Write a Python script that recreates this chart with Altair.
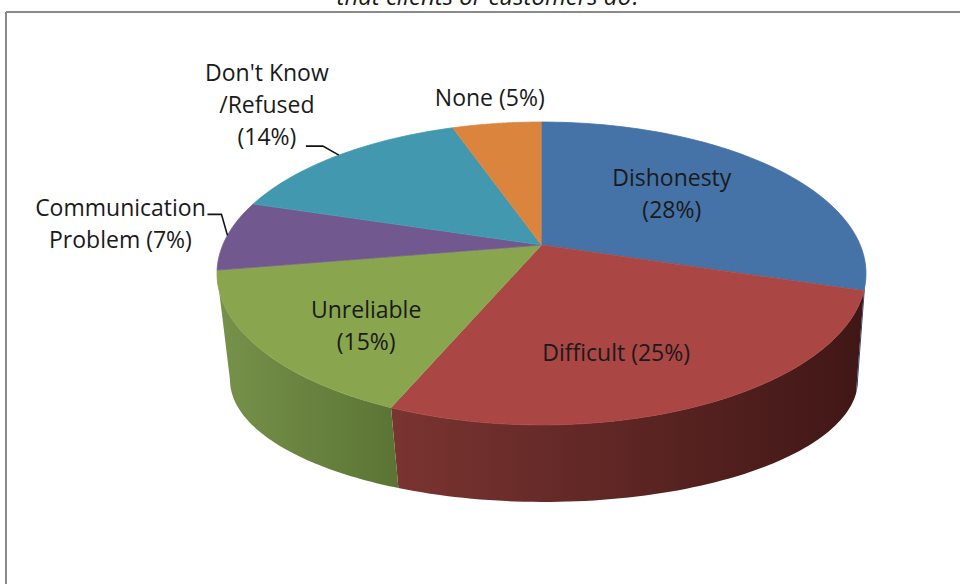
import math
import altair as alt
import pandas as pd

# ---------------- data ----------------
categories = ["Dishonesty", "Difficult", "Unreliable", "Communication Problem",
              "Don't Know /Refused", "None"]
values = [28, 25, 15, 7, 14, 5]
label_names = ["Dishonesty", "Difficult", "Unreliable", "Communication\nProblem",
               "Don't Know\n/Refused", "None"]
label_seps = ["\n", " ", "\n", " ", "\n", " "]
title_text = "that clients or customers do?"

# ---------------- styles ----------------
top_colors = ["#4572A7", "#AA4643", "#89A54E", "#71588F", "#4198AF", "#DB843D"]
wall_light = ["#2f5079", "#7a3431", "#76924a", "#52406a", "#2f7185", "#a86230"]
wall_dark = ["#243d5e", "#401716", "#5b7434", "#3f3152", "#245867", "#854d25"]

# ---------------- layout (pie geometry in plot units) ----------------
CX, CY, RX, RY, P = 541.5, 245.0, 318.7, 146.1, 0.188      # top face
CXB, CYB, RXB, RYB, PB = 544.0, 357.0, 308.4, 117.7, 0.188  # bottom face
N = 72
A_MIN = math.acos(-P)
A_MAX = 2 * math.pi - A_MIN
LINE_H = 32

layout = pd.DataFrame({
    "category": categories,
    "lr": [0.6, 0.6, 0.6, 1.0, 1.0, 1.0],
    "ldx": [-14, -15, -14, -107, -72, -7],
    "ldy": [-1, 20, 23.5, -10, -49, -24],
    "k1x": [0, 0, 0, -6, -16, 0],
    "k1y": [0, 0, 0, -21, -9, 0],
    "k2x": [0, 0, 0, -20, -33, 0],
    "k2y": [0, 0, 0, -21, -9, 0],
    "leader": [0, 0, 0, 1, 1, 0],
})

df = pd.DataFrame({
    "category": categories,
    "value": values,
    "order": list(range(len(categories))),
    "label": [n + s + f"({v}%)" for n, s, v in zip(label_names, label_seps, values)],
})

xscale = alt.Scale(domain=[0, 960], nice=False, zero=False)
yscale = alt.Scale(domain=[0, 584], reverse=True, nice=False, zero=False)
cscale = alt.Scale(domain=categories, range=top_colors)

X = alt.X("px:Q", scale=xscale, axis=None)
Y = alt.Y("py:Q", scale=yscale, axis=None)

base = (
    alt.Chart(df)
    .transform_joinaggregate(total="sum(value)")
    .transform_window(cum="sum(value)", sort=[alt.SortField("order")], frame=[None, 0])
    .transform_calculate(a0="2*PI*(datum.cum - datum.value)/datum.total")
    .transform_calculate(a1="2*PI*datum.cum/datum.total")
)

# ---------------- side walls ----------------
walls = []
for cat, lc, dc in zip(categories, wall_light, wall_dark):
    w = (
        base.transform_filter(alt.datum.category == cat)
        .transform_calculate(s0=f"max(datum.a0, {A_MIN})")
        .transform_calculate(s1=f"min(datum.a1, {A_MAX})")
        .transform_filter("datum.s1 > datum.s0")
        .transform_calculate(idx=f"sequence(0, {2 * N + 2})")
        .transform_flatten(["idx"])
        .transform_calculate(
            ang=f"datum.idx <= {N} ? datum.s0 + datum.idx/{N}*(datum.s1-datum.s0)"
                f" : datum.s1 - (datum.idx-{N}-1)/{N}*(datum.s1-datum.s0)")
        .transform_calculate(st=f"1/(1+{P}*cos(datum.ang))")
        .transform_calculate(sb=f"1/(1+{PB}*cos(datum.ang))")
        .transform_calculate(
            px=f"datum.idx <= {N} ? {CX} + {RX}*sin(datum.ang)*datum.st"
               f" : {CXB} + {RXB}*sin(datum.ang)*datum.sb")
        .transform_calculate(
            py=f"datum.idx <= {N} ? {CY} - {RY}*cos(datum.ang)*datum.st"
               f" : {CYB} - {RYB}*cos(datum.ang)*datum.sb")
        .mark_line(
            filled=True,
            fill=alt.LinearGradient(
                gradient="linear", x1=0, x2=1, y1=0, y2=0,
                stops=[alt.GradientStop(color=lc, offset=0),
                       alt.GradientStop(color=dc, offset=1)]),
            strokeWidth=0,
        )
        .encode(x=X, y=Y, order="idx:Q", detail="category:N")
    )
    walls.append(w)

# ---------------- top faces ----------------
top = (
    base.transform_calculate(idx=f"sequence(0, {N + 2})")
    .transform_flatten(["idx"])
    .transform_calculate(ang=f"datum.a0 + (datum.idx-1)/{N}*(datum.a1-datum.a0)")
    .transform_calculate(st=f"1/(1+{P}*cos(datum.ang))")
    .transform_calculate(px=f"datum.idx == 0 ? {CX} : {CX} + {RX}*sin(datum.ang)*datum.st")
    .transform_calculate(py=f"datum.idx == 0 ? {CY} : {CY} - {RY}*cos(datum.ang)*datum.st")
    .mark_line(filled=True, strokeWidth=0.8)
    .encode(
        x=X, y=Y, order="idx:Q", detail="category:N",
        color=alt.Color("category:N", scale=cscale, legend=None),
        stroke=alt.Stroke("category:N", scale=cscale, legend=None),
    )
)

# ---------------- leader lines ----------------
leaders = (
    base.transform_lookup(
        lookup="category",
        from_=alt.LookupData(layout, "category", ["k1x", "k1y", "k2x", "k2y", "leader"]))
    .transform_filter("datum.leader == 1")
    .transform_calculate(idx="sequence(0, 3)")
    .transform_flatten(["idx"])
    .transform_calculate(mid="(datum.a0 + datum.a1)/2")
    .transform_calculate(st=f"1/(1+{P}*cos(datum.mid))")
    .transform_calculate(
        px=f"{CX} + {RX}*sin(datum.mid)*datum.st"
           " + (datum.idx == 1 ? datum.k1x : datum.idx == 2 ? datum.k2x : 0)")
    .transform_calculate(
        py=f"{CY} - {RY}*cos(datum.mid)*datum.st"
           " + (datum.idx == 1 ? datum.k1y : datum.idx == 2 ? datum.k2y : 0)")
    .mark_line(color="#111111", strokeWidth=1.6)
    .encode(x=X, y=Y, order="idx:Q", detail="category:N")
)

# ---------------- labels ----------------
labels = (
    base.transform_lookup(
        lookup="category",
        from_=alt.LookupData(layout, "category", ["lr", "ldx", "ldy"]))
    .transform_calculate(mid="(datum.a0 + datum.a1)/2")
    .transform_calculate(lu="datum.lr*sin(datum.mid)")
    .transform_calculate(lv="datum.lr*cos(datum.mid)")
    .transform_calculate(ls=f"1/(1+{P}*datum.lv)")
    .transform_calculate(nl="length(split(datum.label, '\\n'))")
    .transform_calculate(px=f"{CX} + {RX}*datum.lu*datum.ls + datum.ldx")
    .transform_calculate(
        py=f"{CY} - {RY}*datum.lv*datum.ls + datum.ldy - (datum.nl - 1)*{LINE_H}/2")
    .mark_text(font="Open Sans", fontSize=23, lineBreak="\n", lineHeight=LINE_H,
               align="center", baseline="middle", color="#1a1a1a")
    .encode(x=X, y=Y, text="label:N")
)

# ---------------- title (only its lower part shows, as in the original) ----------------
title_mark = alt.Chart(pd.DataFrame({"t": [title_text]})).mark_text(
    font="Open Sans", fontSize=24, fontStyle="italic", align="center",
    baseline="alphabetic", color="#1a1a1a",
).encode(text="t:N", x=alt.value(489), y=alt.value(5))

# ---------------- chart frame ----------------
frame_df = pd.DataFrame({"d": [0]})
frame_left = alt.Chart(frame_df).mark_rule(color="#8a8a8a", strokeWidth=2).encode(
    x=alt.value(6), y=alt.value(12), y2=alt.value(584))
frame_top = alt.Chart(frame_df).mark_rule(color="#8a8a8a", strokeWidth=2).encode(
    x=alt.value(6), x2=alt.value(960), y=alt.value(12))

chart = alt.layer(*walls, top, leaders, labels, title_mark, frame_left, frame_top).properties(
    width=960,
    height=584,
    autosize=alt.AutoSizeParams(type="none"),
    padding=0,
    background="white",
).configure_view(stroke=None)

chart.save("out.html", embed_options={"renderer": "svg", "actions": False})
